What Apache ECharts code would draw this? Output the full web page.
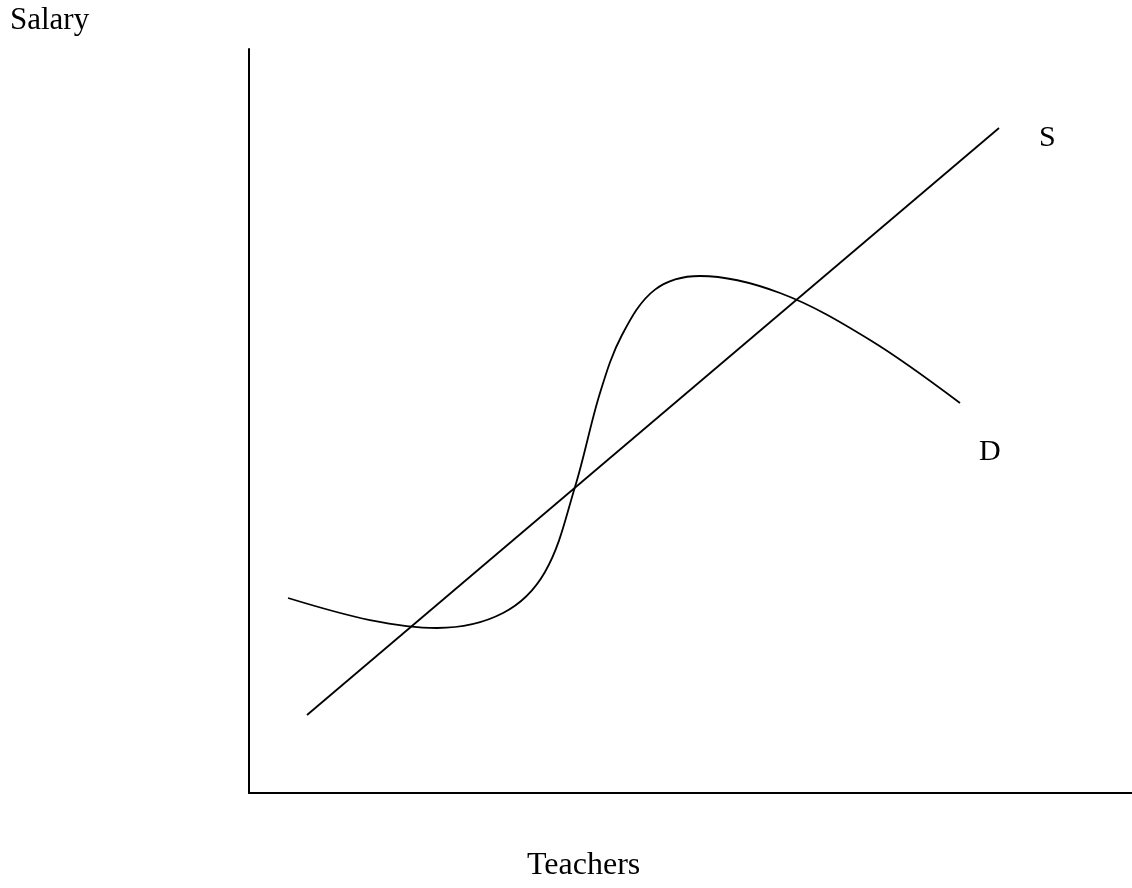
<!DOCTYPE html>
<html>
<head>
<meta charset="utf-8">
<script src="https://cdn.jsdelivr.net/npm/echarts@6/dist/echarts.min.js"></script>
<style>
  html, body { margin: 0; padding: 0; background: #fff; }
  #chart { width: 1132px; height: 888px; }
</style>
</head>
<body>
<div id="chart"></div>
<script>
// supply line, two end points (teachers, salary)
const supplyX = [6.57, 84.94];
const supplyY = [10.48, 89.38];

// demand curve
const demandX = [4.42, 13.70, 21.29, 28.77, 33.52, 36.92, 39.75, 42.24, 45.98, 51.08, 60.14, 70.33, 80.52];
const demandY = [26.21, 23.25, 22.18, 24.19, 29.70, 41.13, 53.76, 61.56, 67.66, 69.49, 67.20, 60.89, 52.42];

const xName = "Teachers";
const yName = "Salary";

const font = "'Liberation Serif', 'Times New Roman', serif";

let myChart = echarts.init(document.getElementById("chart"));

let axisBase = {
  type: "value",
  min: 0,
  max: 100,
  axisLine: { show: true, lineStyle: { color: "#000", width: 2 } },
  axisTick: { show: false },
  axisLabel: { show: false },
  splitLine: { show: false },
};

let option = {
  animation: false,
  backgroundColor: "#fff",
  grid: { left: 249, right: 0, top: 49, bottom: 95 },
  xAxis: Object.assign({}, axisBase),
  yAxis: Object.assign({}, axisBase),
  graphic: [
    {
      type: "text",
      x: 10,
      y: 21,
      style: { text: yName, font: "31px " + font, fill: "#000", verticalAlign: "middle" },
    },
    {
      type: "text",
      x: 527,
      y: 866,
      style: { text: xName, font: "32px " + font, fill: "#000", verticalAlign: "middle" },
    },
  ],
  series: [
    {
      name: "S",
      type: "line",
      data: supplyX.map((x, i) => [x, supplyY[i]]),
      showSymbol: false,
      lineStyle: { color: "#000", width: 1.8 },
      endLabel: {
        show: true,
        formatter: "S",
        distance: 0,
        offset: [40, 10],
        fontFamily: font,
        fontSize: 30,
        color: "#000",
      },
    },
    {
      name: "D",
      type: "line",
      data: demandX.map((x, i) => [x, demandY[i]]),
      smooth: 0.35,
      showSymbol: false,
      lineStyle: { color: "#000", width: 1.8 },
      endLabel: {
        show: true,
        formatter: "D",
        distance: 0,
        offset: [19, 49],
        fontFamily: font,
        fontSize: 30,
        color: "#000",
      },
    },
  ],
};
myChart.setOption(option);
</script>
</body>
</html>
